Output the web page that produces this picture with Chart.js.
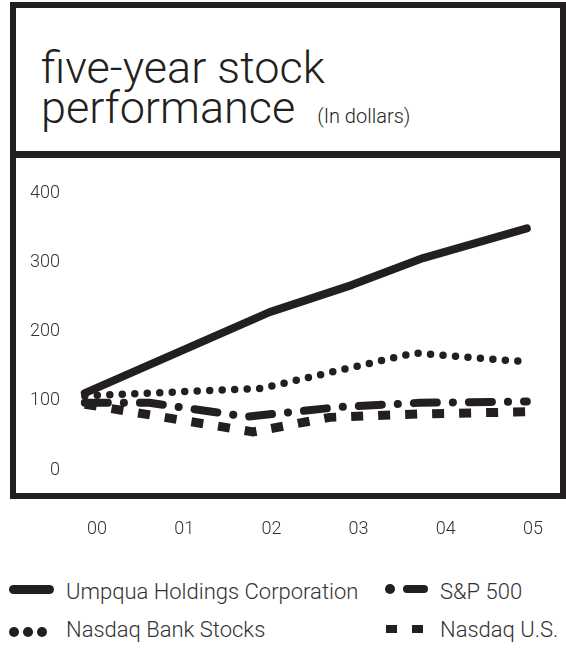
<!DOCTYPE html>
<html>
<head>
<meta charset="utf-8">
<script src="https://cdn.jsdelivr.net/npm/chart.js@4/dist/chart.umd.min.js"></script>
<style>
  html, body { margin: 0; padding: 0; background: #fff; }
  body { width: 566px; height: 648px; position: relative; overflow: hidden;
         font-family: Roboto, "Liberation Sans", Arial, sans-serif; font-weight: 300; color: #231f20; }
  .frame { position: absolute; left: 10px; top: 2px; width: 544px; height: 485px; border: 6px solid #231f20; }
  .divider { position: absolute; left: 10px; top: 151px; width: 556px; height: 7px; background: #231f20; }
  .title { position: absolute; left: 41px; font-size: 45px; line-height: 45px; white-space: nowrap; }
  .sub { font-size: 20px; margin-left: 22px; }
  #chart { position: absolute; left: 0; top: 0; }
  .lg { position: absolute; font-size: 22px; line-height: 22px; white-space: nowrap; color: #333; }
  .sw { position: absolute; background: #231f20; }
</style>
</head>
<body>
<div class="frame"></div>
<div class="divider"></div>
<div class="title" style="top:45px">five-year stock</div>
<div class="title" style="top:85px">performance<span class="sub">(In dollars)</span></div>

<canvas id="chart" width="566" height="560"></canvas>

<!-- leyenda -->
<div class="sw" style="left:9px;top:585px;width:45px;height:9px;border-radius:5px"></div>
<div class="lg" style="left:66px;top:581px">Umpqua Holdings Corporation</div>
<div class="sw" style="left:9px;top:627px;width:10px;height:10px;border-radius:5px"></div>
<div class="sw" style="left:23px;top:627px;width:10px;height:10px;border-radius:5px"></div>
<div class="sw" style="left:37px;top:627px;width:10px;height:10px;border-radius:5px"></div>
<div class="lg" style="left:66px;top:619px">Nasdaq Bank Stocks</div>
<div class="sw" style="left:385px;top:584px;width:10px;height:10px;border-radius:5px"></div>
<div class="sw" style="left:403px;top:585px;width:25px;height:8px;border-radius:4px"></div>
<div class="lg" style="left:440px;top:581px">S&amp;P 500</div>
<div class="sw" style="left:386px;top:625px;width:11px;height:8px"></div>
<div class="sw" style="left:412px;top:625px;width:11px;height:8px"></div>
<div class="lg" style="left:440px;top:619px">Nasdaq U.S.</div>

<script>
const yearLabels = ['00', '01', '02', '03', '04', '05'];
const yTicks = [0, 100, 200, 300, 400];

// posiciones en años y valores en dólares
const umpquaX = [-0.14, 1.98, 2.92, 3.74, 4.93];
const umpquaY = [111, 228, 267, 306, 349];

const bankX = [-0.14, 1.89, 3.64, 4.95];
const bankY = [107, 118, 169, 156];

const spX = [-0.14, 0.6, 1.72, 2.79, 3.70, 4.93];
const spY = [97, 97, 77, 91, 97, 99];

const nasdaqX = [-0.14, 1.79, 2.67, 3.70, 4.93];
const nasdaqY = [95, 55, 76, 81, 84];

const ink = '#231f20';

function puntos(xs, ys) {
    return xs.map((x, i) => ({ x: x, y: ys[i] }));
}

document.addEventListener('DOMContentLoaded', function() {
    const ctx = document.getElementById('chart').getContext('2d');
    const tickFont = { family: 'Roboto, "Liberation Sans", Arial, sans-serif', size: 18, weight: '300' };

    new Chart(ctx, {
        type: 'line',
        data: {
            datasets: [
                {
                    label: 'Nasdaq U.S.',
                    data: puntos(nasdaqX, nasdaqY),
                    borderColor: ink, borderWidth: 9,
                    borderDash: [12, 15], borderCapStyle: 'butt', borderJoinStyle: 'miter',
                    pointRadius: 0, tension: 0
                },
                {
                    label: 'S&P 500',
                    data: puntos(spX, spY),
                    borderColor: ink, borderWidth: 8,
                    borderDash: [23, 16, 0.1, 16], borderCapStyle: 'round', borderJoinStyle: 'round',
                    pointRadius: 0, tension: 0
                },
                {
                    label: 'Nasdaq Bank Stocks',
                    data: puntos(bankX, bankY),
                    borderColor: ink, borderWidth: 7.5,
                    borderDash: [0, 12.5], borderCapStyle: 'round', borderJoinStyle: 'round',
                    pointRadius: 0, tension: 0
                },
                {
                    label: 'Umpqua Holdings Corporation',
                    data: puntos(umpquaX, umpquaY),
                    borderColor: ink, borderWidth: 8,
                    borderCapStyle: 'round', borderJoinStyle: 'round',
                    pointRadius: 0, tension: 0
                }
            ]
        },
        options: {
            responsive: false,
            animation: false,
            layout: { padding: { top: 193, right: 20, left: 0, bottom: 0 } },
            plugins: {
                legend: { display: false },
                tooltip: { enabled: false }
            },
            scales: {
                x: {
                    type: 'linear',
                    min: -0.31,
                    max: 5.15,
                    grid: { display: false, drawTicks: false },
                    border: { display: false },
                    afterBuildTicks: function(scale) {
                        scale.ticks = yearLabels.map((l, i) => ({ value: i }));
                    },
                    afterFit: function(scale) {
                        scale.height = 90;
                        scale.paddingLeft = 0;
                        scale.paddingRight = 0;
                    },
                    ticks: {
                        callback: function(v) { return yearLabels[v]; },
                        padding: 49,
                        maxRotation: 0,
                        color: '#333',
                        font: tickFont
                    }
                },
                y: {
                    min: 0,
                    max: 400,
                    grid: { display: false, drawTicks: false },
                    border: { display: false },
                    afterBuildTicks: function(scale) {
                        scale.ticks = yTicks.map(v => ({ value: v }));
                    },
                    afterFit: function(scale) {
                        scale.width = 70;
                        scale.paddingTop = 0;
                        scale.paddingBottom = 0;
                    },
                    ticks: {
                        padding: 10,
                        color: '#333',
                        font: tickFont
                    }
                }
            }
        }
    });
});
</script>
</body>
</html>
